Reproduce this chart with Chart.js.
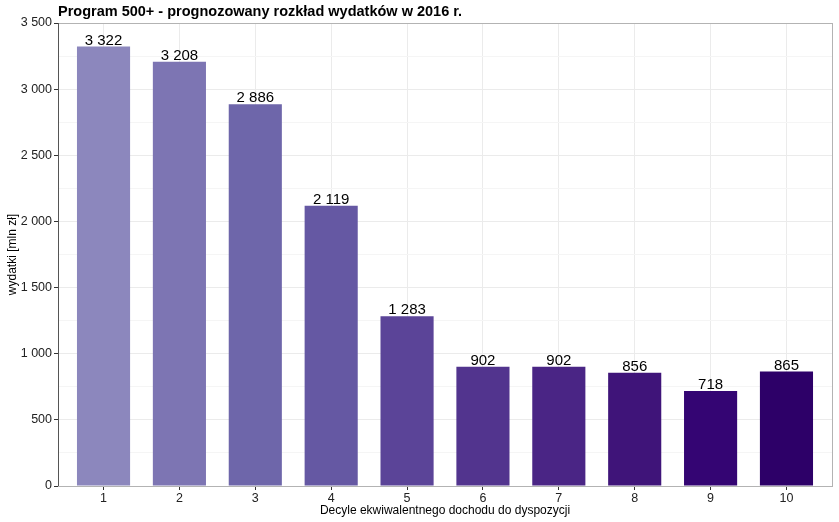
<!DOCTYPE html>
<html>
<head>
<meta charset="utf-8">
<script src="https://cdn.jsdelivr.net/npm/chart.js@4/dist/chart.umd.min.js"></script>
<style>
  html, body { margin: 0; padding: 0; background: #fff; }
  #wrap { width: 839px; height: 522px; }
</style>
</head>
<body>
<div id="wrap"><canvas id="BarChart" width="839" height="522"></canvas></div>
<script>
const decyle = [1, 2, 3, 4, 5, 6, 7, 8, 9, 10]
const wydatki = [3322, 3208, 2886, 2119, 1283, 902, 902, 856, 718, 865]
const yTicks = [0, 500, 1000, 1500, 2000, 2500, 3000, 3500]
const barColors = ["#8c87bd", "#7d75b3", "#6e66aa", "#6558a3", "#5b4498",
	"#52348e", "#4a2585", "#3f1479", "#340573", "#2d0068"]

const fmt = (v) => String(v).replace(/\B(?=(\d{3})+(?!\d))/g, " ")
const FONT = "'Liberation Sans', Arial, sans-serif"

// ramka panelu, lewa oś, tytuł i etykiety nad słupkami
const extras = {
	id: "extras",
	beforeDatasetsDraw(chart) {
		const { ctx, chartArea: a } = chart
		ctx.save()
		ctx.strokeStyle = "#b3b3b3"
		ctx.lineWidth = 1
		ctx.strokeRect(a.left + 0.5, a.top + 0.5, a.right - a.left, a.bottom - a.top)
		ctx.restore()
	},
	afterDatasetsDraw(chart) {
		const { ctx, chartArea: a } = chart
		ctx.save()
		ctx.strokeStyle = "#555"
		ctx.beginPath()
		ctx.moveTo(a.left + 0.5, a.top)
		ctx.lineTo(a.left + 0.5, a.bottom)
		ctx.stroke()

		ctx.fillStyle = "#000"
		ctx.font = "15px " + FONT
		ctx.textAlign = "center"
		ctx.textBaseline = "alphabetic"
		chart.getDatasetMeta(0).data.forEach((bar, i) => {
			ctx.fillText(fmt(wydatki[i]), bar.x, bar.y - 2)
		})

		ctx.font = "bold 14.5px " + FONT
		ctx.textAlign = "left"
		ctx.textBaseline = "middle"
		ctx.fillText("Program 500+ - prognozowany rozkład wydatków w 2016 r.", a.left, 12)
		ctx.restore()
	},
}

new Chart(document.getElementById("BarChart").getContext("2d"), {
	type: "bar",
	data: {
		datasets: [
			{
				label: "wydatki",
				data: decyle.map((d, i) => ({ x: d, y: wydatki[i] })),
				backgroundColor: barColors,
				borderWidth: 0,
				borderColor: barColors,
				inflateAmount: 0,
				barPercentage: 0.7,
				categoryPercentage: 1,
			},
		],
	},
	options: {
		responsive: false,
		animation: false,
		layout: { padding: { top: 23, right: 7, left: 0, bottom: 0 } },
		plugins: { legend: { display: false }, tooltip: { enabled: false }, title: { display: false } },
		scales: {
			x: {
				type: "linear",
				min: 0.4,
				max: 10.6,
				offset: false,
				afterBuildTicks: (s) => { s.ticks = decyle.map((v) => ({ value: v })) },
				afterFit: (s) => { s.height = 36 },
				border: { display: false },
				grid: { offset: false, color: "#ebebeb", tickColor: "#333", tickLength: 4, drawOnChartArea: true },
				ticks: { color: "#222", font: { size: 12.5, family: FONT }, padding: 1, maxRotation: 0 },
				title: { display: true, text: "Decyle ekwiwalentnego dochodu do dyspozycji",
					color: "#000", font: { size: 12, family: FONT }, padding: { top: 0, bottom: 4 } },
			},
			y: {
				min: 0,
				max: 3500,
				afterBuildTicks: (s) => {
					const t = []
					for (let v = 0; v <= 3500; v += 250) t.push({ value: v })
					s.ticks = t
				},
				afterFit: (s) => { s.width = 58 },
				border: { display: false },
				grid: {
					color: (c) => (c.tick && c.tick.value % 500 === 0 ? "#ebebeb" : "#f5f5f5"),
					tickColor: (c) => (c.tick && c.tick.value % 500 === 0 ? "#333" : "rgba(0,0,0,0)"),
					tickLength: 4,
				},
				ticks: {
					color: "#222",
					font: { size: 12.5, family: FONT },
					padding: 2,
					callback: (v) => (yTicks.includes(v) ? fmt(v) : ""),
				},
				title: { display: true, text: "wydatki [mln zł]", color: "#000",
					font: { size: 12, family: FONT }, padding: { top: 5, bottom: 0 } },
			},
		},
	},
	plugins: [extras],
})
</script>
</body>
</html>
